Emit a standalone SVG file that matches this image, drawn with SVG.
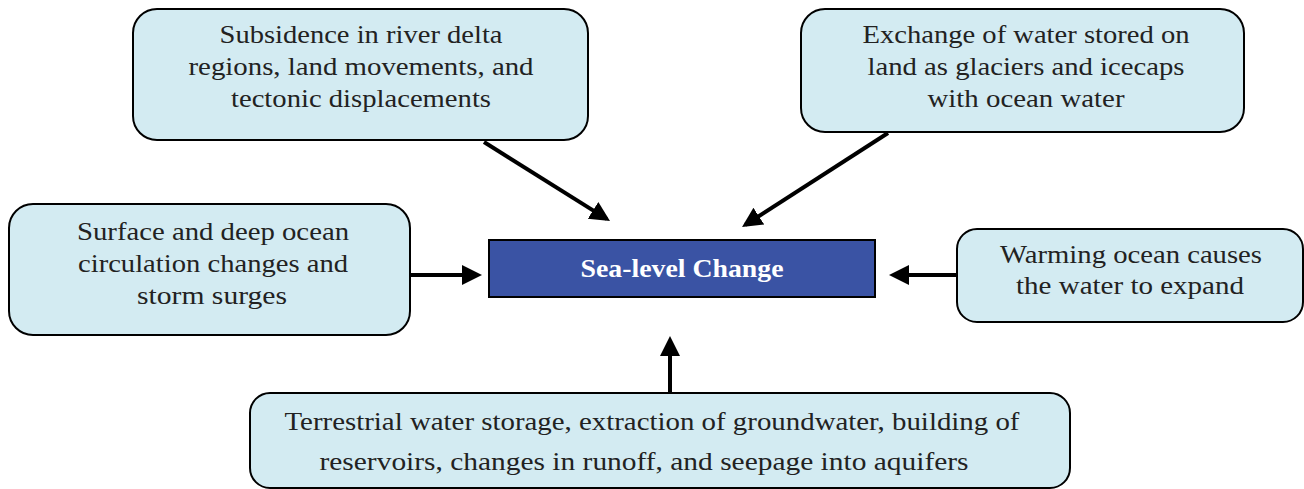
<svg xmlns="http://www.w3.org/2000/svg" width="1304" height="489" viewBox="0 0 1304 489">
<style>
.box{fill:#d3ebf2;stroke:#000;stroke-width:2}
.t{font-family:"Liberation Serif","Times New Roman",serif;font-size:25px;fill:#222;text-anchor:middle}
.c{stroke:#000;stroke-width:4;fill:none}
</style>
<defs>
<marker id="ah" markerWidth="6" markerHeight="6" refX="4" refY="3" orient="auto" markerUnits="strokeWidth">
<path d="M0,0.5 L5,3 L0,5.5 Z" fill="#000"/>
</marker>
</defs>
<rect width="1304" height="489" fill="#fff"/>
<g id="connectors">
<line class="c" x1="484" y1="142" x2="606.6" y2="218.9" marker-end="url(#ah)"/>
<line class="c" x1="888" y1="133" x2="745.4" y2="224.8" marker-end="url(#ah)"/>
<line class="c" x1="411" y1="275" x2="478" y2="275" marker-end="url(#ah)"/>
<line class="c" x1="957" y1="275" x2="893" y2="275" marker-end="url(#ah)"/>
<line class="c" x1="670" y1="392" x2="670" y2="340" marker-end="url(#ah)"/>
</g>
<g id="n1">
<rect class="box" x="133" y="9" width="455" height="131" rx="24"/>
<text class="t" x="361" y="43" textLength="283" lengthAdjust="spacingAndGlyphs">Subsidence in river delta</text>
<text class="t" x="361" y="75" textLength="345" lengthAdjust="spacingAndGlyphs">regions, land movements, and</text>
<text class="t" x="361" y="107" textLength="260" lengthAdjust="spacingAndGlyphs">tectonic displacements</text>
</g>
<g id="n2">
<rect class="box" x="801" y="9" width="443" height="123" rx="24"/>
<text class="t" x="1026" y="43" textLength="327" lengthAdjust="spacingAndGlyphs">Exchange of water stored on</text>
<text class="t" x="1026" y="75" textLength="317" lengthAdjust="spacingAndGlyphs">land as glaciers and icecaps</text>
<text class="t" x="1026" y="107" textLength="197" lengthAdjust="spacingAndGlyphs">with ocean water</text>
</g>
<g id="n3">
<rect class="box" x="9" y="204" width="401" height="131" rx="24"/>
<text class="t" x="213" y="240" textLength="272" lengthAdjust="spacingAndGlyphs">Surface and deep ocean</text>
<text class="t" x="213" y="272" textLength="270" lengthAdjust="spacingAndGlyphs">circulation changes and</text>
<text class="t" x="212" y="304" textLength="150" lengthAdjust="spacingAndGlyphs">storm surges</text>
</g>
<g id="n4">
<rect class="box" x="957" y="229" width="346" height="93" rx="20"/>
<text class="t" x="1131" y="263" textLength="262" lengthAdjust="spacingAndGlyphs">Warming ocean causes</text>
<text class="t" x="1130" y="294" textLength="228" lengthAdjust="spacingAndGlyphs">the water to expand</text>
</g>
<g id="n5">
<rect class="box" x="250" y="393" width="820" height="95" rx="20"/>
<text class="t" x="652" y="430" textLength="735" lengthAdjust="spacingAndGlyphs">Terrestrial water storage, extraction of groundwater, building of</text>
<text class="t" x="644" y="470" textLength="649" lengthAdjust="spacingAndGlyphs">reservoirs, changes in runoff, and seepage into aquifers</text>
</g>
<g id="center">
<rect x="489" y="240" width="386" height="57" fill="#3a53a4" stroke="#000" stroke-width="2"/>
<text x="682" y="277" font-family="Liberation Serif,serif" font-size="25" font-weight="bold" fill="#fff" text-anchor="middle" textLength="203" lengthAdjust="spacingAndGlyphs">Sea-level Change</text>
</g>
</svg>
